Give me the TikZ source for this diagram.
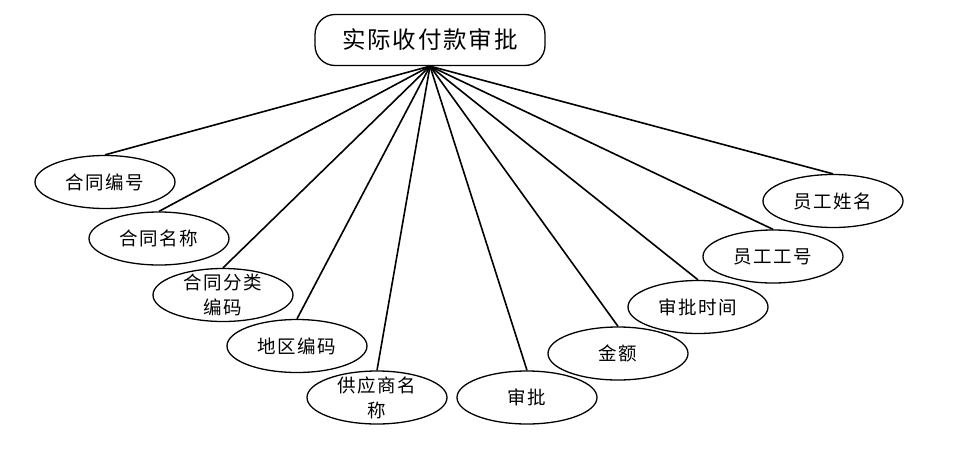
\documentclass[tikz,border=0pt]{standalone}
\usepackage{fontspec}
\setmainfont{Noto Sans CJK SC}
\newfontfamily\spcjk{Noto Sans CJK SC}[LetterSpace=8]
\usetikzlibrary{shapes.geometric}
\begin{document}
\begin{tikzpicture}[x=1pt,y=-1pt,
  attr/.style={draw, ellipse, line width=1.3pt, minimum width=140pt, minimum height=53pt, inner sep=0pt},
  lab/.style={font=\spcjk\fontsize{18.5}{25}\selectfont, align=center, inner sep=0pt},
  link/.style={line width=1.6pt}]
\useasboundingbox (0,0) rectangle (956,450);
\node[draw, rounded corners=20pt, minimum width=230pt, minimum height=51pt, line width=1.3pt, inner sep=0pt, font=\spcjk\fontsize{23.5}{28}\selectfont] (top) at (430,40) {实际收付款审批};
\node[attr, label={[lab]center:合同编号}] (e1) at (105,182) {};
\node[attr, label={[lab]center:合同名称}] (e2) at (159,238.5) {};
\node[attr, label={[lab]center:合同分类\\编码}] (e3) at (223,295) {};
\node[attr, label={[lab]center:地区编码}] (e4) at (297,346) {};
\node[attr, label={[lab]center:供应商名\\称}] (e5) at (377,397.5) {};
\node[attr, label={[lab]center:审批}] (e6) at (527,397.5) {};
\node[attr, label={[lab]center:金额}] (e7) at (618,353.5) {};
\node[attr, label={[lab]center:审批时间}] (e8) at (698,307) {};
\node[attr, label={[lab]center:员工工号}] (e9) at (773,256.5) {};
\node[attr, label={[lab]center:员工姓名}] (e10) at (833,201) {};
\foreach \n in {e1,e2,e3,e4,e5,e6,e7,e8,e9,e10}
  \draw[link] (top.south) -- (\n.north);
\end{tikzpicture}
\end{document}
